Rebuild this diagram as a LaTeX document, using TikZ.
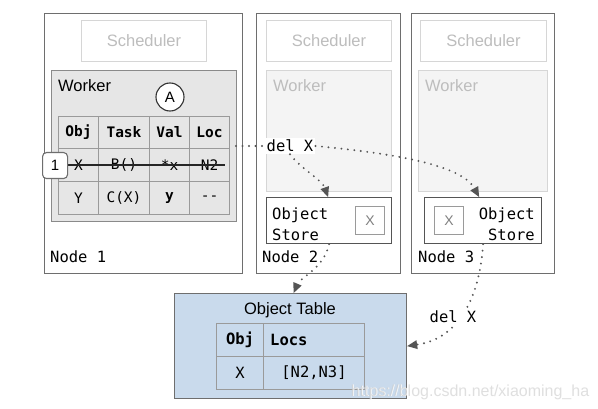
\documentclass[tikz,border=0pt]{standalone}
\usepackage{fontspec}
\setmainfont{Liberation Sans}
\setmonofont{DejaVu Sans Mono}
\usetikzlibrary{arrows.meta}
\definecolor{nodeline}{HTML}{6E6E6E}
\definecolor{lightline}{HTML}{D6D6D6}
\definecolor{lighttext}{HTML}{BDBDBD}
\definecolor{workerfill}{HTML}{E6E6E6}
\definecolor{workerline}{HTML}{8A8A8A}
\definecolor{ghostfill}{HTML}{F4F4F4}
\definecolor{tabline}{HTML}{9A9A9A}
\definecolor{bluefill}{HTML}{C9DAEC}
\definecolor{arrowcol}{HTML}{555555}
\tikzset{
  nodebox/.style={draw=nodeline, line width=1.2pt, fill=white, anchor=north west, inner sep=0},
  schedbox/.style={draw=lightline, line width=1pt, fill=white, anchor=north west, inner sep=0},
  schedtext/.style={text=lighttext, font=\fontsize{16.5}{18}\selectfont},
  ghostworker/.style={draw=lightline, line width=1pt, fill=ghostfill, anchor=north west, inner sep=0},
  storebox/.style={draw=arrowcol, line width=1.2pt, fill=white, anchor=north west, inner sep=0},
  xbox/.style={draw=tabline, line width=1pt, fill=white, anchor=north west, inner sep=0},
  tcell/.style={draw=tabline, line width=1pt, anchor=north west, inner sep=0},
  monolabel/.style={font=\ttfamily\fontsize{15.5}{21}\selectfont, inner sep=0},
  celltext/.style={font=\ttfamily\fontsize{14.5}{16}\selectfont, inner sep=0},
  cellbold/.style={font=\ttfamily\bfseries\fontsize{14.5}{16}\selectfont, inner sep=0},
  otext/.style={font=\ttfamily\fontsize{15.5}{18}\selectfont, inner sep=0},
  obold/.style={font=\ttfamily\bfseries\fontsize{15.5}{18}\selectfont, inner sep=0},
  sanslabel/.style={font=\fontsize{16.5}{18}\selectfont, inner sep=0},
  dotarrow/.style={draw=arrowcol, line width=2.1pt, line cap=round, dash pattern=on 0pt off 6.5pt,
    -{Triangle[length=10pt,width=9pt,line cap=butt,line width=0pt]}},
  dotline/.style={draw=arrowcol, line width=2.1pt, line cap=round, dash pattern=on 0pt off 6.5pt},
}
\begin{document}
\begin{tikzpicture}[x=1pt,y=-1pt]
\useasboundingbox (0,0) rectangle (598,409);
\fill[white] (0,0) rectangle (598,409);
% cluster nodes
\node[nodebox, minimum width=198, minimum height=260] (node1) at (44,13) {};
\node[nodebox, minimum width=144, minimum height=260] (node2) at (256,13) {};
\node[nodebox, minimum width=143, minimum height=260] (node3) at (411,13) {};
% schedulers
\node[schedbox, minimum width=125, minimum height=41] (sch1) at (81,20) {};
\node[schedtext] at (sch1.center) {Scheduler};
\node[schedbox, minimum width=125, minimum height=41] (sch2) at (266,20) {};
\node[schedtext] at (sch2.center) {Scheduler};
\node[schedbox, minimum width=126, minimum height=41] (sch3) at (420,20) {};
\node[schedtext] at (sch3.center) {Scheduler};
% worker node 1
\node[draw=workerline, line width=1.2pt, fill=workerfill, anchor=north west, inner sep=0,
      minimum width=185, minimum height=151] (work1) at (51,70) {};
\node[sanslabel, anchor=base west] (w1lab) at (58,92) {Worker};
\node[draw=black!80, line width=1.1pt, fill=white, circle, minimum size=28, inner sep=0,
      font=\fontsize{15}{17}\selectfont] (circA) at (170,97) {A};
% table in worker 1
\foreach \r/\ya/\h in {0/116/32,1/148/33,2/181/33}{
  \foreach \c/\xa/\w in {0/58/40,1/98/51,2/149/40,3/189/40}{
    \node[tcell, minimum width=\w, minimum height=\h] (t\r\c) at (\xa,\ya) {};
  }
}
\node[cellbold] at (t00.center) {Obj};
\node[cellbold] at (t01.center) {Task};
\node[cellbold] at (t02.center) {Val};
\node[cellbold] at (t03.center) {Loc};
\node[celltext] at (t10.center) {X};
\node[celltext] at (t11.center) {B()};
\node[celltext] at (t12.center) {*x};
\node[celltext] at (t13.center) {N2};
\node[celltext] at (t20.center) {Y};
\node[celltext] at (t21.center) {C(X)};
\node[cellbold] at (t22.center) {y};
\node[celltext] at (t23.center) {-{}-};
\coordinate (strikeA) at (66,165);
\coordinate (strikeB) at (225,165);
\draw[black!85, line width=1.5pt] (strikeA) -- (strikeB);
\node[draw=nodeline, line width=1.1pt, fill=white, rounded corners=4pt, anchor=north west,
      minimum width=25, minimum height=26, inner sep=0, font=\fontsize{15}{17}\selectfont] (badge) at (42,152) {1};
\node[monolabel, anchor=base west] (n1lab) at (50,263) {Node 1};
% node 2 content
\node[ghostworker, minimum width=125, minimum height=121] (work2) at (266,70) {};
\node[sanslabel, text=lighttext, anchor=base west] at (273,92) {Worker};
\node[storebox, minimum width=125, minimum height=46] (store2) at (266,197) {};
\node[monolabel, anchor=north west, align=left] (st2lab) at (272,208) {Object\\Store};
\node[xbox, minimum width=29, minimum height=28] (x2) at (355,206) {};
\node[text=black!50, font=\fontsize{14}{16}\selectfont, inner sep=0] at (x2.center) {X};
\node[monolabel, anchor=base west] (n2lab) at (262,263) {Node 2};
% node 3 content
\node[ghostworker, minimum width=129, minimum height=121] (work3) at (418,70) {};
\node[sanslabel, text=lighttext, anchor=base west] at (425,92) {Worker};
\node[storebox, minimum width=117, minimum height=46] (store3) at (424,197) {};
\node[monolabel, anchor=north east, align=right] (st3lab) at (535,208) {Object\\Store};
\node[xbox, minimum width=29, minimum height=28] (x3) at (434,206) {};
\node[text=black!50, font=\fontsize{14}{16}\selectfont, inner sep=0] at (x3.center) {X};
\node[monolabel, anchor=base west] (n3lab) at (418,263) {Node 3};
% object table
\node[draw=nodeline, line width=1.2pt, fill=bluefill, anchor=north west, inner sep=0,
      minimum width=232, minimum height=105] (otab) at (174,293) {};
\node[sanslabel] at (290,310) {Object Table};
\node[tcell, minimum width=47, minimum height=33] (o00) at (216,323) {};
\node[tcell, minimum width=101, minimum height=33] (o01) at (263,323) {};
\node[tcell, minimum width=47, minimum height=33] (o10) at (216,356) {};
\node[tcell, minimum width=101, minimum height=33] (o11) at (263,356) {};
\node[obold] at (o00.center) {Obj};
\node[obold, anchor=west] at ([xshift=7]o01.west) {Locs};
\node[otext] at (o10.center) {X};
\node[otext] at (o11.center) {[N2,N3]};
% arrows
\coordinate (start1) at (236,146);
\node[monolabel, fill=white, inner sep=2pt] (del1) at (290,146) {del X};
\draw[dotline] (start1) -- (del1.west);
\draw[dotarrow] (del1.south) .. controls (300,168) and (322,180) .. ([xshift=-1]store2.north);
\draw[dotarrow] (del1.east) .. controls (400,154) and (462,166) .. ([xshift=-4]store3.north);
\draw[dotarrow] (store2.south) .. controls (324,268) and (300,278) .. ([xshift=3]otab.north);
\draw[dotarrow] (store3.south) .. controls (480,292) and (462,338) .. (otab.east);
\node[monolabel, fill=white, inner sep=1pt] (del2) at (453,317) {del X};
% watermark
\node[text=white, font=\fontsize{16}{18}\selectfont, inner sep=0, opacity=0.9] (wm0) at (470.8,392.8) {https://blog.csdn.net/xiaoming\_ha};
\node[text=gray!45, font=\fontsize{16}{18}\selectfont, inner sep=0, opacity=0.55] (wm) at (470,392) {https://blog.csdn.net/xiaoming\_ha};
\end{tikzpicture}
\end{document}
